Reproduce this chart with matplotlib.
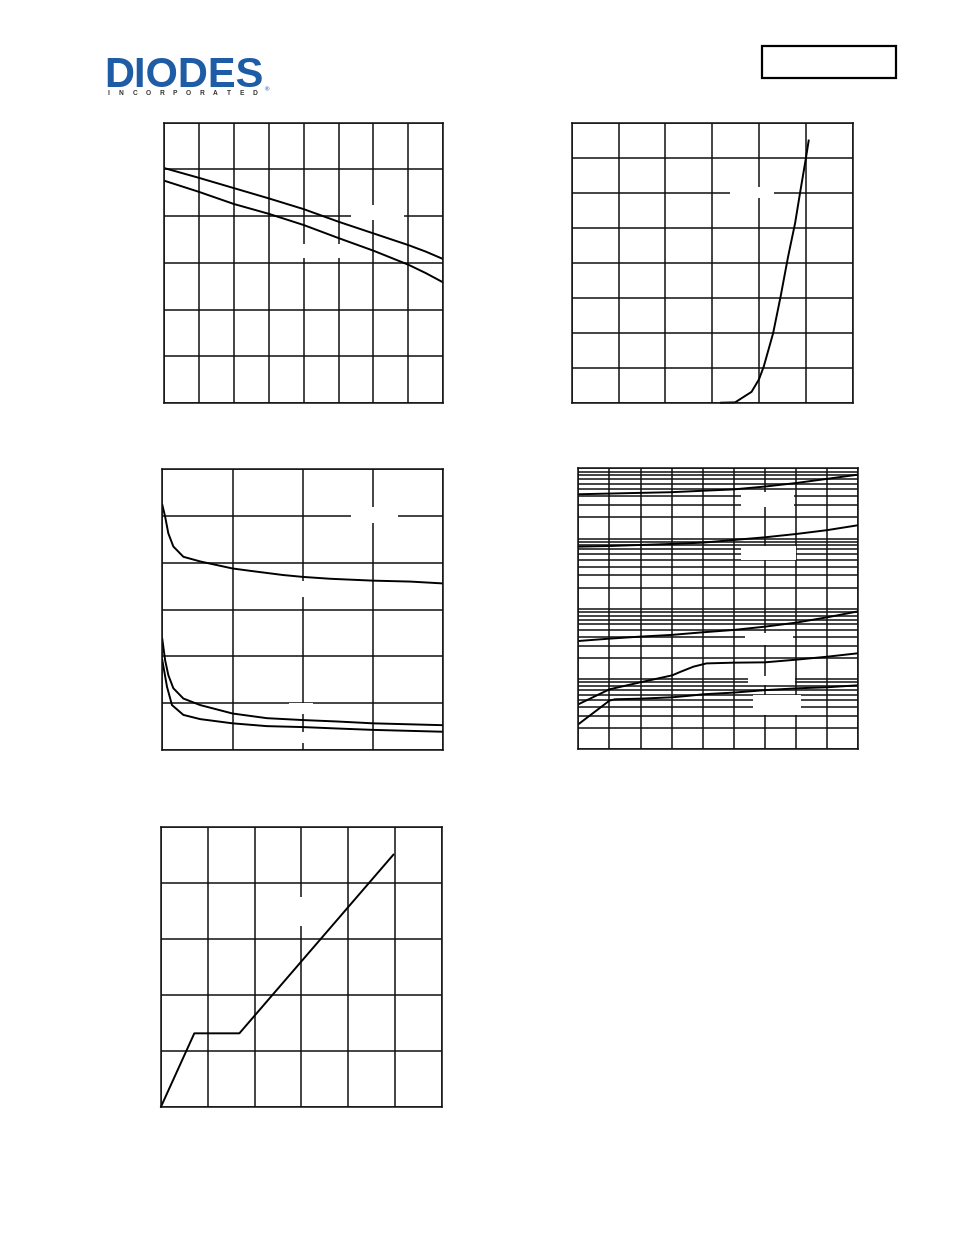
import numpy as np
import matplotlib
matplotlib.use("Agg")
import matplotlib.pyplot as plt
from matplotlib.patches import Rectangle
from matplotlib.lines import Line2D
from matplotlib.ticker import LogLocator, NullFormatter

W, H = 954, 1235

# panel 1 (top left): two falling curves, 8 x 6 grid
p1_x = [0, 1, 2, 3, 4, 5, 6, 7, 7.5, 8]
p1_upper = [5.03, 4.82, 4.60, 4.38, 4.15, 3.88, 3.63, 3.38, 3.24, 3.08]
p1_lower = [4.76, 4.52, 4.26, 4.05, 3.81, 3.53, 3.26, 2.96, 2.78, 2.58]
p1_boxes = [(5.35, 3.92, 6.88, 4.24), (3.75, 3.11, 5.19, 3.40)]

# panel 2 (top right): steep rising curve, 6 x 8 grid
p2_x = [3.19, 3.49, 3.84, 4.00, 4.10, 4.30, 4.46, 4.62, 4.77, 4.88, 5.00, 5.06]
p2_y = [0.0, 0.01, 0.31, 0.67, 1.03, 1.98, 3.03, 4.17, 5.13, 6.03, 6.98, 7.49]
p2_boxes = [(3.38, 5.84, 4.32, 6.16)]

# panel 3 (middle left): three decaying curves, 4 x 6 grid
p3_x1 = [0, 0.04, 0.086, 0.157, 0.3, 0.54, 1.0, 1.25, 1.72, 2.0, 2.39, 3.0, 3.53, 4.0]
p3_top = [5.24, 4.99, 4.63, 4.35, 4.13, 4.03, 3.88, 3.83, 3.74, 3.70, 3.66, 3.62, 3.60, 3.56]
p3_x2 = [0, 0.04, 0.086, 0.157, 0.3, 0.54, 1.0, 1.49, 2.0, 2.48, 3.0, 4.0]
p3_mid = [2.37, 1.92, 1.60, 1.32, 1.10, 0.96, 0.78, 0.68, 0.64, 0.61, 0.57, 0.53]
p3_x3 = [0, 0.067, 0.138, 0.3, 0.54, 1.0, 1.49, 2.0, 2.48, 3.0, 4.0]
p3_low = [1.92, 1.35, 0.96, 0.75, 0.66, 0.57, 0.51, 0.49, 0.46, 0.43, 0.39]
p3_boxes = [(2.68, 4.86, 3.35, 5.19), (1.82, 3.28, 2.22, 3.62),
            (1.80, 0.76, 2.15, 1.01), (1.82, 0.14, 2.19, 0.39)]

# panel 4 (middle right): five curves on a 4-decade log axis, 9 columns
p4_x = [0, 1, 2, 3, 4, 5, 6, 7, 8, 9]
p4_a = [4270, 4370, 4470, 4570, 4790, 5010, 5500, 6170, 7080, 8130]
p4_b = [767, 783, 811, 838, 875, 955, 1042, 1161, 1318, 1549]
p4_c = [34.8, 37.6, 40.2, 42.5, 46.3, 50.0, 55.7, 63.5, 75.7, 92.0]
p4_xd = [0, 1.0, 2.0, 3.02, 3.27, 3.7, 4.12, 4.98, 6.0, 7.02, 8.0, 9.0]
p4_d = [4.37, 7.14, 9.0, 11.3, 12.6, 15.0, 16.7, 17.1, 17.3, 18.9, 20.8, 23.3]
p4_xe = [0, 0.7, 1.0, 1.18, 2.0, 3.02, 3.59, 4.02, 4.98, 6.0, 7.02, 8.0, 9.0]
p4_e = [2.27, 3.9, 4.93, 5.15, 5.26, 5.50, 5.80, 6.07, 6.41, 6.95, 7.38, 7.64, 8.15]
p4_boxes = [(5.23, 2790, 6.93, 4650), (5.23, 495, 6.99, 793),
            (5.36, 30.5, 6.89, 45.7), (5.45, 8.2, 6.97, 11.1),
            (5.61, 3.08, 7.15, 5.93)]

# panel 5 (bottom left): ramp, plateau, ramp; 6 x 5 grid
p5_x = [0, 0.712, 1.675, 4.967]
p5_y = [0, 1.313, 1.313, 4.51]
p5_boxes = [(2.8, 3.23, 3.21, 3.75)]

INK = "#111111"
LOGO_BLUE = "#1f5ca6"
LOGO_SUB = list("INCORPORATED")


def panel(fig, x0, y0, x1, y1):
    # pixel box (top-left origin) -> figure fraction
    return fig.add_axes([x0 / W, 1 - y1 / H, (x1 - x0) / W, (y1 - y0) / H])


def style(ax, nx, ny=None, log=False):
    ax.set_xlim(0, nx)
    ax.set_xticks(np.arange(nx + 1))
    if not log:
        ax.set_ylim(0, ny)
        ax.set_yticks(np.arange(ny + 1))
    ax.set_axisbelow(True)
    ax.grid(True, which="major", color=INK, lw=1.1)
    ax.tick_params(which="both", length=0, labelbottom=False, labelleft=False)
    for s in ax.spines.values():
        s.set_color(INK)
        s.set_linewidth(1.1)


def mask(ax, boxes):
    for bx0, by0, bx1, by1 in boxes:
        ax.add_patch(Rectangle((bx0, by0), bx1 - bx0, by1 - by0,
                               facecolor="white", edgecolor="none", zorder=1.5))


fig = plt.figure(figsize=(W / 100, H / 100), dpi=100)

# logo + header box
fig.text(104 / W, 1 - 87 / H, "DIODES", fontsize=30, fontweight="black",
         family="Liberation Sans", color=LOGO_BLUE, ha="left", va="baseline")
fig.add_artist(Line2D([104 / W, 188 / W], [1 - 71 / H, 1 - 71 / H],
                      color="white", lw=1.2))
for i, ch in enumerate(LOGO_SUB):
    fig.text((108 + i * 13.4) / W, 1 - 95 / H, ch, fontsize=4.8, fontweight="bold",
             family="Liberation Sans", color="#333333", ha="center", va="baseline")
fig.text(263 / W, 1 - 91 / H, "®", fontsize=4.5, color=LOGO_BLUE, ha="left")
fig.add_artist(Rectangle((762 / W, 1 - 78 / H), 134 / W, 32 / H,
                         transform=fig.transFigure, facecolor="none",
                         edgecolor="black", lw=1.6))

# panel 1
ax1 = panel(fig, 164, 122.7, 443.3, 403)
style(ax1, 8, 6)
mask(ax1, p1_boxes)
ax1.plot(p1_x, p1_upper, color="black", lw=1.4)
ax1.plot(p1_x, p1_lower, color="black", lw=1.4)

# panel 2
ax2 = panel(fig, 571.7, 122.7, 852.7, 402.7)
style(ax2, 6, 8)
mask(ax2, p2_boxes)
ax2.plot(p2_x, p2_y, color="black", lw=1.4, clip_on=False)

# panel 3
ax3 = panel(fig, 162.3, 469.3, 443.3, 750)
style(ax3, 4, 6)
mask(ax3, p3_boxes)
ax3.plot(p3_x1, p3_top, color="black", lw=1.4)
ax3.plot(p3_x2, p3_mid, color="black", lw=1.4)
ax3.plot(p3_x3, p3_low, color="black", lw=1.4)

# panel 4 (log y)
ax4 = panel(fig, 578.3, 468.3, 858.3, 749.3)
ax4.set_yscale("log")
ax4.set_ylim(1, 1e4)
ax4.yaxis.set_major_locator(LogLocator(base=10))
ax4.yaxis.set_minor_locator(LogLocator(base=10, subs=np.arange(2, 10)))
ax4.yaxis.set_minor_formatter(NullFormatter())
style(ax4, 9, log=True)
ax4.grid(True, which="minor", axis="y", color=INK, lw=1.1)
mask(ax4, p4_boxes)
for xs, ys in [(p4_x, p4_a), (p4_x, p4_b), (p4_x, p4_c), (p4_xd, p4_d), (p4_xe, p4_e)]:
    ax4.plot(xs, ys, color="black", lw=1.4)

# panel 5
ax5 = panel(fig, 161, 827.3, 441.7, 1106.7)
style(ax5, 6, 5)
mask(ax5, p5_boxes)
ax5.plot(p5_x, p5_y, color="black", lw=1.4, clip_on=False)

fig.savefig("out.png", dpi=100)
